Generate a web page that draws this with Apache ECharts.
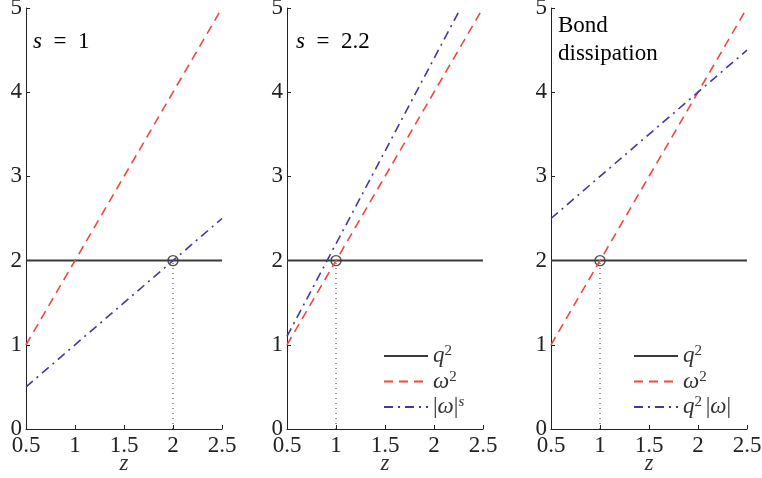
<!DOCTYPE html>
<html>
<head>
<meta charset="utf-8">
<script src="https://cdn.jsdelivr.net/npm/echarts@6/dist/echarts.min.js"></script>
<style>
  html, body { margin: 0; padding: 0; background: #fff; }
  #chart { width: 762px; height: 478px; }
</style>
</head>
<body>
<div id="chart"></div>
<script>
// z samples shared by the panels
const zValues = [0.5, 1, 1.5, 2, 2.5];
// q^2 (constant level)
const qSquared = [2, 2, 2, 2, 2];
// omega^2
const omegaSquared = [1, 2, 3, 4, 5];
// |omega|^s for s = 1
const omegaPowS1 = [0.5, 1, 1.5, 2, 2.5];
// |omega|^s for s = 2.2 (stops at the top of the axes)
const zValuesS22 = [0.5, 1, 1.5, 2, 2.25];
const omegaPowS22 = [1.1, 2.2, 3.3, 4.4, 4.95];
// q^2 |omega| (bond dissipation)
const qSqOmega = [2.5, 3, 3.5, 4, 4.5];
// crossing points marked with a circle, one per panel
const crossings = [[2, 2], [1, 2], [1, 2]];
// panel captions
const captions = ['{i|s}{n|  =  1}', '{i|s}{n|  =  2.2}', '{n|Bond}\n{n|dissipation}'];
const yTicks = [0, 1, 2, 3, 4, 5];

const SERIF = '"Liberation Serif", "DejaVu Serif", serif';
const RED = '#f0483a';
const BLUE = '#4536a6';
const DARK = '#3a3a3a';

const pair = (xs, ys) => xs.map((x, i) => [x, ys[i]]);

const richText = {
  i: { fontFamily: SERIF, fontStyle: 'italic', fontSize: 23, color: '#333', lineHeight: 24 },
  n: { fontFamily: SERIF, fontSize: 23, color: '#333', lineHeight: 24 },
  sup: { fontFamily: SERIF, fontSize: 15, color: '#333', verticalAlign: 'top', lineHeight: 24 },
  supi: { fontFamily: SERIF, fontStyle: 'italic', fontSize: 15, color: '#333', verticalAlign: 'top', lineHeight: 24 }
};

const gridLefts = [26, 287, 551];
const grids = gridLefts.map(l => ({
  left: l, top: 8, width: 196, height: 421,
  containLabel: false, outerBoundsMode: 'none'
}));

const xAxes = grids.map((g, i) => ({
  type: 'value', gridIndex: i, min: 0.5, max: 2.5, interval: 0.5,
  name: '{i|z}', nameLocation: 'middle', nameGap: 23, nameMoveOverlap: false,
  nameTextStyle: { rich: richText },
  axisLine: { lineStyle: { color: '#222', width: 1 } },
  axisTick: { inside: true, length: 4, lineStyle: { color: '#222' } },
  axisLabel: { fontFamily: SERIF, fontSize: 23, color: '#222', margin: 5 },
  splitLine: { show: false }
}));
const yAxes = grids.map((g, i) => ({
  type: 'value', gridIndex: i, min: yTicks[0], max: yTicks[yTicks.length - 1], interval: 1,
  axisLine: { show: true, lineStyle: { color: '#222', width: 1 } },
  axisTick: { show: true, inside: true, length: 4, lineStyle: { color: '#222' } },
  axisLabel: { fontFamily: SERIF, fontSize: 23, color: '#222', margin: 4 },
  splitLine: { show: false }
}));

function lineSeries(name, idx, data, color, type, width) {
  return {
    name, type: 'line', xAxisIndex: idx, yAxisIndex: idx, data,
    symbol: 'none', silent: true, animation: false,
    lineStyle: { color, type, width },
    itemStyle: { color }
  };
}
const DASH = [9, 6];
const DASHDOT = [9, 5, 2, 5];

const secondCurves = [pair(zValues, omegaPowS1), pair(zValuesS22, omegaPowS22), pair(zValues, qSqOmega)];
const secondNames = ['ws1', 'ws', 'qw'];

const series = [];
for (let i = 0; i < 3; i++) {
  const c = crossings[i];
  series.push(lineSeries('dot' + i, i, [[c[0], 0], [c[0], c[1]]], '#333', [1, 4], 1));
  series.push(lineSeries('q2', i, pair(zValues, qSquared), DARK, 'solid', 2));
  series.push(lineSeries('w2', i, pair(zValues, omegaSquared), RED, DASH, 1.6));
  series.push(lineSeries(secondNames[i], i, secondCurves[i], BLUE, DASHDOT, 1.6));
  series.push({
    name: 'cross' + i, type: 'scatter', xAxisIndex: i, yAxisIndex: i,
    data: [c], symbol: 'circle', symbolSize: 10, silent: true,
    itemStyle: { color: 'rgba(0,0,0,0)', borderColor: '#222', borderWidth: 1.4 }
  });
}

const legendLabels = {
  q2: '{i|q}{sup|2}',
  w2: '{i|ω}{sup|2}',
  ws: '{n||}{i|ω}{n||}{supi|s}',
  qw: '{i|q}{sup|2 }{n||}{i|ω}{n||}'
};
function makeLegend(left, names) {
  return {
    data: names, left, top: 339, orient: 'vertical',
    itemWidth: 44, itemHeight: 14, itemGap: 2, selectedMode: false,
    itemStyle: { opacity: 0 },
    formatter: n => legendLabels[n],
    textStyle: { rich: richText }
  };
}

const captionPos = [[33, 42], [296, 42], [558, 40]];
const graphic = captions.map((t, i) => ({
  type: 'text', x: captionPos[i][0], y: captionPos[i][1],
  style: { text: t, rich: Object.assign({}, richText, {
    n: { fontFamily: SERIF, fontSize: 23, color: '#333', lineHeight: i === 2 ? 28 : 24 } }),
    verticalAlign: 'middle', align: 'left' }
}));

const chart = echarts.init(document.getElementById('chart'), null, { renderer: 'canvas' });
chart.setOption({
  animation: false,
  backgroundColor: '#fff',
  grid: grids,
  xAxis: xAxes,
  yAxis: yAxes,
  legend: [makeLegend(378, ['q2', 'w2', 'ws']), makeLegend(628, ['q2', 'w2', 'qw'])],
  graphic,
  series
});
</script>
</body>
</html>
